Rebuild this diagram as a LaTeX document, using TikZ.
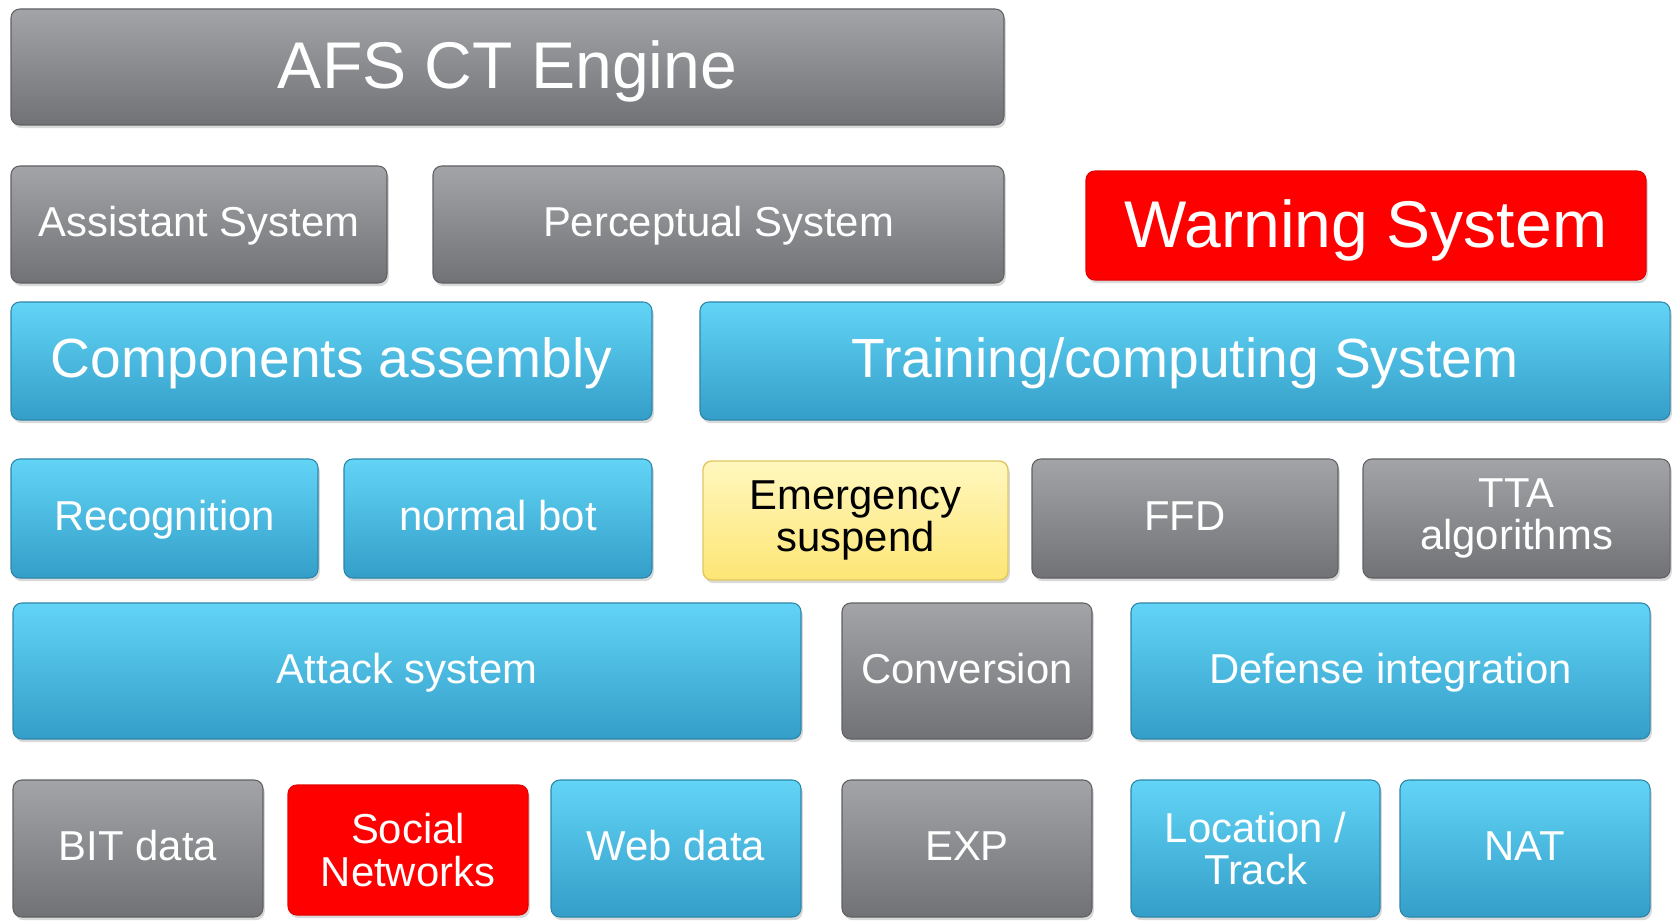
\documentclass[tikz,border=0pt]{standalone}
\usepackage{fontspec}
\setmainfont{Liberation Sans}
\usetikzlibrary{shadows}

\definecolor{grayT}{RGB}{162,164,167}
\definecolor{grayB}{RGB}{112,114,117}
\definecolor{blueT}{RGB}{98,212,246}
\definecolor{blueB}{RGB}{52,158,200}
\definecolor{warnred}{RGB}{255,0,0}
\definecolor{yelT}{RGB}{255,247,190}
\definecolor{yelB}{RGB}{253,230,118}
\definecolor{yelD}{RGB}{228,198,96}

\begin{document}
\begin{tikzpicture}[
            box/.style={rounded corners=2.5pt, text=white, align=center, inner sep=0pt,
                font=\fontsize{11.9}{12.2}\selectfont,
                drop shadow={shadow xshift=0.5pt, shadow yshift=-0.9pt, opacity=0.3}},
            oneline/.style={text height=8.5pt, text depth=1.6pt},
            graybox/.style={box, top color=grayT, bottom color=grayB, draw=grayB!85!black, line width=0.3pt},
            bluebox/.style={box, top color=blueT, bottom color=blueB, draw=blueB!85!black, line width=0.3pt},
            redbox/.style={box, fill=warnred, draw=warnred!90!black, line width=0.3pt},
            yellowbox/.style={box, top color=yelT, bottom color=yelB, draw=yelD, line width=0.4pt, text=black},
            large/.style={font=\fontsize{18.8}{20}\selectfont, text height=13.5pt, text depth=1.2pt},
            medium/.style={font=\fontsize{15.7}{17}\selectfont, text height=11.3pt, text depth=1.8pt}
        ]
            \useasboundingbox (0,0) rectangle (16.75,-9.21);

            \node[graybox, large, minimum width=9.93cm, minimum height=1.16cm] (engine) at (5.075,-0.67) {AFS CT Engine};

            \node[graybox, oneline, minimum width=3.76cm, minimum height=1.17cm] (assist) at (1.99,-2.245) {Assistant System};
            \node[graybox, oneline, minimum width=5.71cm, minimum height=1.17cm] (percept) at (7.185,-2.245) {Perceptual System};
            \node[redbox, large, minimum width=5.60cm, minimum height=1.09cm] (warning) at (13.66,-2.255) {Warning System};

            \node[bluebox, medium, minimum width=6.41cm, minimum height=1.18cm] (compo) at (3.315,-3.61) {Components assembly};
            \node[bluebox, medium, minimum width=9.70cm, minimum height=1.18cm] (training) at (11.85,-3.61) {Training/computing System};

            \node[bluebox, oneline, minimum width=3.07cm, minimum height=1.19cm] (recog) at (1.645,-5.185) {Recognition};
            \node[bluebox, oneline, minimum width=3.08cm, minimum height=1.19cm] (normalbot) at (4.98,-5.185) {normal bot};
            \node[yellowbox, minimum width=3.05cm, minimum height=1.19cm] (emerg) at (8.555,-5.205) {Emergency\\suspend};
            \node[graybox, oneline, minimum width=3.06cm, minimum height=1.19cm] (ffd) at (11.85,-5.185) {FFD};
            \node[graybox, minimum width=3.07cm, minimum height=1.19cm] (tta) at (15.165,-5.185) {TTA\\algorithms};

            \node[bluebox, oneline, minimum width=7.88cm, minimum height=1.36cm] (attack) at (4.07,-6.71) {Attack system};
            \node[graybox, oneline, minimum width=2.50cm, minimum height=1.36cm] (conv) at (9.67,-6.71) {Conversion};
            \node[bluebox, oneline, minimum width=5.19cm, minimum height=1.36cm] (defense) at (13.905,-6.71) {Defense integration};

            \node[graybox, oneline, minimum width=2.50cm, minimum height=1.37cm] (bit) at (1.38,-8.485) {BIT data};
            \node[redbox, minimum width=2.40cm, minimum height=1.30cm] (social) at (4.08,-8.50) {Social\\Networks};
            \node[bluebox, oneline, minimum width=2.50cm, minimum height=1.37cm] (web) at (6.76,-8.485) {Web data};
            \node[graybox, oneline, minimum width=2.50cm, minimum height=1.37cm] (exp) at (9.67,-8.485) {EXP};
            \node[bluebox, minimum width=2.49cm, minimum height=1.37cm] (loc) at (12.555,-8.485) {Location /\\Track};
            \node[bluebox, oneline, minimum width=2.50cm, minimum height=1.37cm] (nat) at (15.25,-8.485) {NAT};

        \end{tikzpicture}
\end{document}
